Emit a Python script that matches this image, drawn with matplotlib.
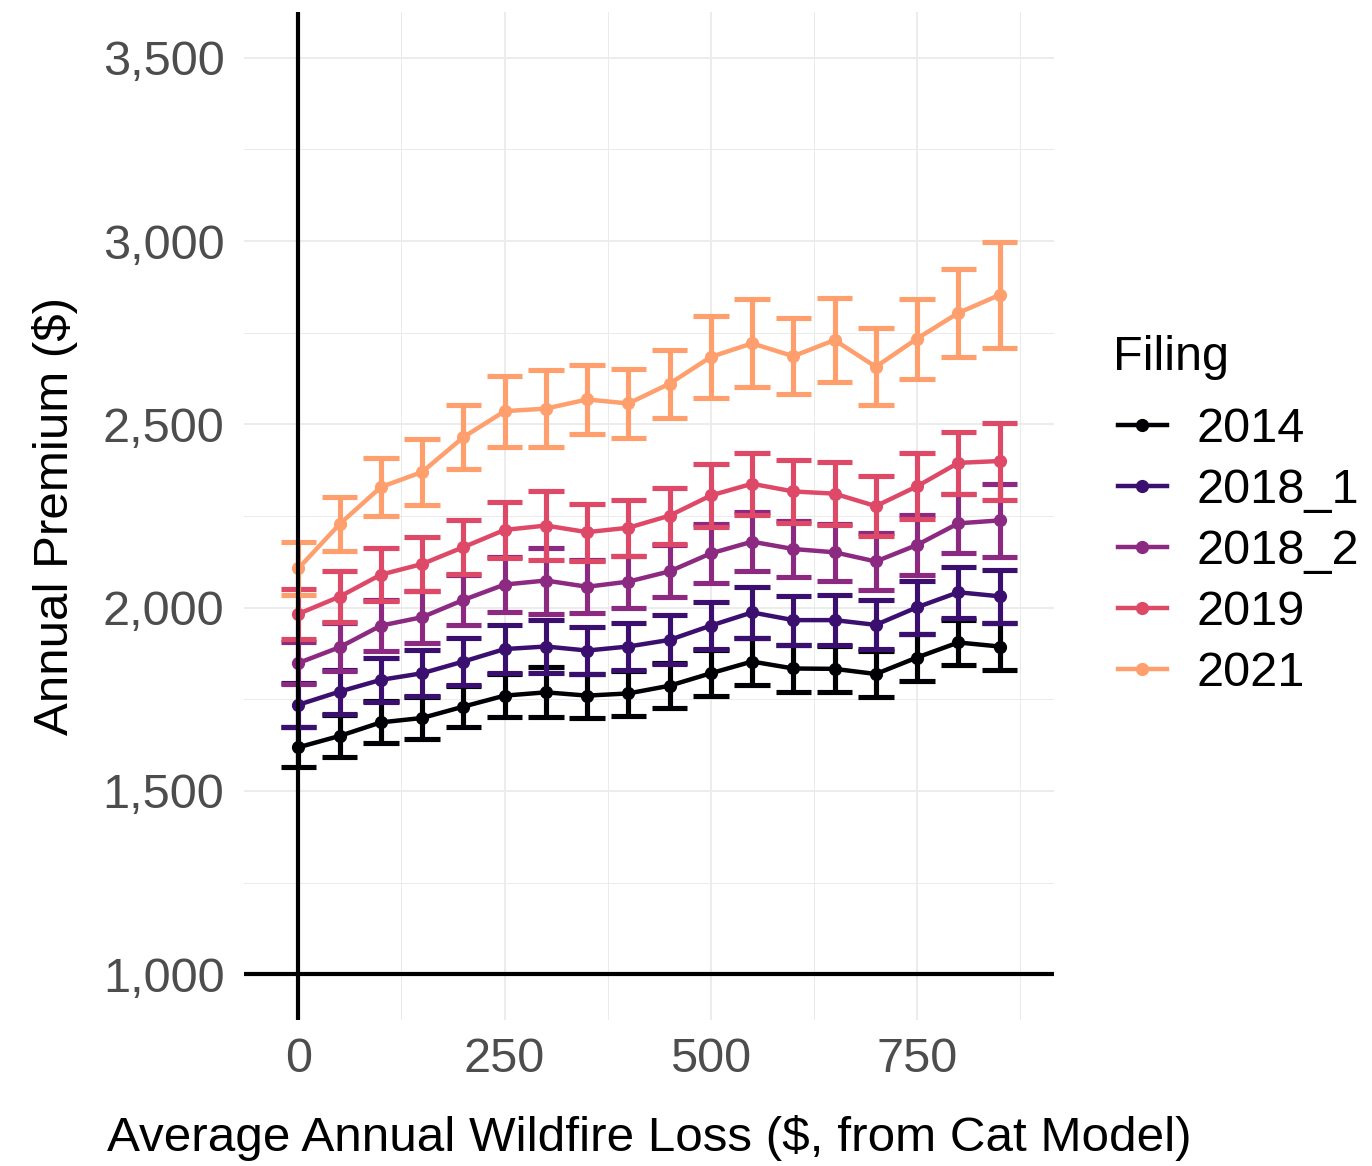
import numpy as np
import matplotlib
matplotlib.use("Agg")
import matplotlib.pyplot as plt
from matplotlib.lines import Line2D
from matplotlib.ticker import MultipleLocator, FuncFormatter

plt.rcParams['font.family'] = ['Liberation Sans', 'DejaVu Sans']

# average annual wildfire loss bins
loss = [0, 50, 100, 150, 200, 250, 300, 350, 400, 450, 500, 550, 600, 650, 700, 750, 800, 850]

filings = ['2014', '2018_1', '2018_2', '2019', '2021']
colors = ['#000004', '#3b0f70', '#8c2981', '#de4968', '#fe9f6d']

prem_2014 = [1619, 1650, 1687, 1699, 1730, 1760, 1769, 1760, 1766, 1787, 1821, 1853, 1834, 1833, 1819, 1864, 1905, 1894]
err_2014 = [55, 57, 57, 57, 56, 58, 68, 60, 61, 62, 63, 64, 63, 63, 64, 65, 61, 65]

prem_2018_1 = [1735, 1771, 1803, 1821, 1853, 1887, 1894, 1883, 1894, 1912, 1951, 1987, 1966, 1966, 1953, 2001, 2042, 2031]
err_2018_1 = [60, 60, 60, 63, 65, 65, 72, 64, 63, 67, 65, 69, 67, 68, 67, 72, 69, 73]

prem_2018_2 = [1849, 1892, 1951, 1974, 2021, 2063, 2074, 2057, 2071, 2099, 2148, 2180, 2160, 2151, 2126, 2171, 2230, 2238]
err_2018_2 = [58, 66, 70, 71, 68, 76, 90, 72, 71, 71, 80, 80, 77, 77, 77, 83, 81, 100]

prem_2019 = [1983, 2030, 2090, 2119, 2165, 2212, 2224, 2206, 2218, 2251, 2306, 2338, 2317, 2311, 2277, 2331, 2395, 2400]
err_2019 = [68, 70, 72, 74, 74, 76, 95, 78, 76, 76, 85, 85, 85, 85, 82, 90, 84, 105]

prem_2021 = [2107, 2228, 2329, 2370, 2465, 2536, 2543, 2568, 2557, 2611, 2684, 2721, 2686, 2730, 2657, 2734, 2804, 2853]
err_2021 = [73, 74, 80, 90, 88, 97, 104, 94, 95, 93, 111, 120, 104, 115, 105, 109, 120, 145]

premiums = [prem_2014, prem_2018_1, prem_2018_2, prem_2019, prem_2021]
errors = [err_2014, err_2018_1, err_2018_2, err_2019, err_2021]

fig = plt.figure(figsize=(13.72, 11.66), dpi=100)
ax = fig.add_axes([0.1778, 0.1252, 0.5904, 0.8645])

x = np.array(loss)
cap_w = 21.5

# error bars first, then lines, then points (ggplot layer order)
for prem, err, col in zip(premiums, errors, colors):
    p = np.array(prem)
    e = np.array(err)
    ax.vlines(x, p - e, p + e, color=col, lw=3.7, zorder=3)
    ax.hlines(p - e, x - cap_w, x + cap_w, color=col, lw=3.7, zorder=3)
    ax.hlines(p + e, x - cap_w, x + cap_w, color=col, lw=3.7, zorder=3)
for prem, col in zip(premiums, colors):
    ax.plot(x, prem, color=col, lw=3.2, zorder=4)
for prem, col in zip(premiums, colors):
    ax.plot(x, prem, 'o', color=col, ms=8.5, zorder=5)

ax.axvline(0, color='black', lw=3, zorder=6)
ax.axhline(1000, color='black', lw=3, zorder=6)

ax.set_xlim(-66, 916)
ax.set_ylim(875, 3625)
ax.xaxis.set_major_locator(MultipleLocator(250))
ax.xaxis.set_minor_locator(MultipleLocator(125))
ax.yaxis.set_major_locator(MultipleLocator(500))
ax.yaxis.set_minor_locator(MultipleLocator(250))
ax.yaxis.set_major_formatter(FuncFormatter(lambda v, _: f'{int(v):,}'))

ax.grid(which='major', color='#ebebeb', lw=1.3, zorder=0)
ax.grid(which='minor', color='#ebebeb', lw=0.7, zorder=0)
ax.set_axisbelow(True)
for s in ax.spines.values():
    s.set_visible(False)
ax.tick_params(which='both', length=0, labelsize=35, labelcolor='#4d4d4d')
ax.tick_params(axis='y', pad=14)
ax.tick_params(axis='x', pad=12)

ax.set_xlabel('Average Annual Wildfire Loss ($, from Cat Model)', fontsize=35.6, labelpad=24)
ax.set_ylabel('Annual Premium ($)', fontsize=35.5, labelpad=18)

handles = [Line2D([0], [0], color=c, lw=3.2, marker='o', ms=8.5) for c in colors]
ax.legend(handles, filings, loc='upper left', bbox_to_anchor=(1.079, 0.6086),
          frameon=False, fontsize=35, handlelength=1.0, borderpad=0,
          handletextpad=0.62, labelspacing=0.33, borderaxespad=0)
fig.text(1113 / 1372, 1 - 370 / 1166, 'Filing', fontsize=35, va='baseline', ha='left')

fig.savefig('out.png', dpi=100)
